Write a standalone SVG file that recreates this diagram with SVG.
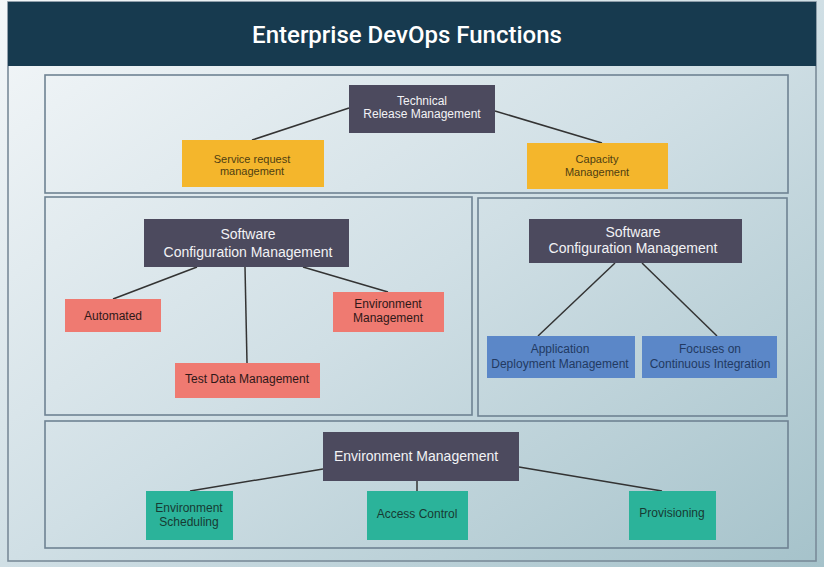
<svg xmlns="http://www.w3.org/2000/svg" width="824" height="567" viewBox="0 0 824 567">
<defs>
<linearGradient id="bg" x1="0" y1="0" x2="1" y2="1">
<stop offset="0" stop-color="#f4f7f9"/>
<stop offset="0.5" stop-color="#d0dfe5"/>
<stop offset="1" stop-color="#a5c2ca"/>
</linearGradient>
<style>
.panel{fill:none;stroke:#6f8393;stroke-width:1.6}
.dark{fill:#4c4a5e}
.yel{fill:#f4b62c}
.pink{fill:#ef7a71}
.blue{fill:#5b87c8}
.teal{fill:#2bb39a}
text{font-family:"Liberation Sans",Arial,sans-serif;text-anchor:middle}
.tw{fill:#f2f2f5}
.ty{fill:#4e3e12;font-size:11px}
.tp{fill:#2e1818;font-size:12px}
.tb{fill:#223a62;font-size:12px}
.tt{fill:#173a33;font-size:12px}
.conn line{stroke:#333;stroke-width:1.5}
</style>
</defs>
<rect x="0" y="0" width="824" height="567" fill="url(#bg)"/>
<rect x="8" y="2" width="808" height="559" fill="none" stroke="#7a8b99" stroke-width="1.6"/>
<rect id="header" x="8" y="2" width="808" height="64" fill="#173a4f"/>
<text x="407" y="43" font-weight="500" font-size="24" fill="#ffffff" style="font-family:Roboto,'Liberation Sans',sans-serif">Enterprise DevOps Functions</text>

<rect class="panel" x="45" y="75" width="743" height="118"/>
<rect class="panel" x="45" y="197" width="427" height="218"/>
<rect class="panel" x="478" y="198" width="309" height="218"/>
<rect class="panel" x="45" y="421" width="743" height="127"/>

<g id="connectors" class="conn">
<line x1="349" y1="108" x2="252" y2="140"/>
<line x1="495" y1="111" x2="602" y2="143"/>
<line x1="197" y1="267" x2="113" y2="299"/>
<line x1="245" y1="267" x2="247" y2="363"/>
<line x1="303" y1="267" x2="388" y2="292"/>
<line x1="615" y1="263" x2="538" y2="336"/>
<line x1="642" y1="263" x2="717" y2="336"/>
<line x1="323" y1="469" x2="190" y2="491"/>
<line x1="417" y1="481" x2="417" y2="491"/>
<line x1="519" y1="467" x2="662" y2="491"/>
</g>

<g id="trm"><rect class="dark" x="349" y="85" width="146" height="48"/>
<text class="tw" font-size="12" x="422" y="105">Technical</text>
<text class="tw" font-size="12" x="422" y="118">Release Management</text></g>
<g id="service"><rect class="yel" x="182" y="140" width="142" height="47"/>
<text class="ty" x="252" y="163">Service request</text>
<text class="ty" x="252" y="175">management</text></g>
<g id="capacity"><rect class="yel" x="527" y="143" width="141" height="46"/>
<text class="ty" x="597" y="163">Capacity</text>
<text class="ty" x="597" y="176">Management</text></g>

<g id="scm1"><rect class="dark" x="144" y="219" width="205" height="48"/>
<text class="tw" font-size="14" x="248" y="239">Software</text>
<text class="tw" font-size="14" x="248" y="257">Configuration Management</text></g>
<g id="automated"><rect class="pink" x="65" y="299" width="96" height="33"/>
<text class="tp" x="113" y="320">Automated</text></g>
<g id="envmgmt1"><rect class="pink" x="333" y="292" width="111" height="40"/>
<text class="tp" x="388" y="308">Environment</text>
<text class="tp" x="388" y="322">Management</text></g>
<g id="testdata"><rect class="pink" x="175" y="363" width="145" height="35"/>
<text class="tp" x="247" y="383">Test Data Management</text></g>

<g id="scm2"><rect class="dark" x="529" y="219" width="213" height="44"/>
<text class="tw" font-size="14" x="633" y="237">Software</text>
<text class="tw" font-size="14" x="633" y="253">Configuration Management</text></g>
<g id="appdeploy"><rect class="blue" x="487" y="336" width="148" height="42"/>
<text class="tb" x="560" y="353">Application</text>
<text class="tb" x="560" y="368">Deployment Management</text></g>
<g id="ci"><rect class="blue" x="642" y="336" width="135" height="42"/>
<text class="tb" x="710" y="353">Focuses on</text>
<text class="tb" x="710" y="368">Continuous Integration</text></g>

<g id="envmgmt2"><rect class="dark" x="323" y="432" width="196" height="49"/>
<text class="tw" font-size="14" x="416" y="461">Environment Management</text></g>
<g id="envsched"><rect class="teal" x="146" y="491" width="87" height="49"/>
<text class="tt" x="189" y="512">Environment</text>
<text class="tt" x="189" y="526">Scheduling</text></g>
<g id="access"><rect class="teal" x="367" y="491" width="101" height="49"/>
<text class="tt" x="417" y="518">Access Control</text></g>
<g id="provisioning"><rect class="teal" x="629" y="491" width="87" height="49"/>
<text class="tt" x="672" y="517">Provisioning</text></g>
</svg>
